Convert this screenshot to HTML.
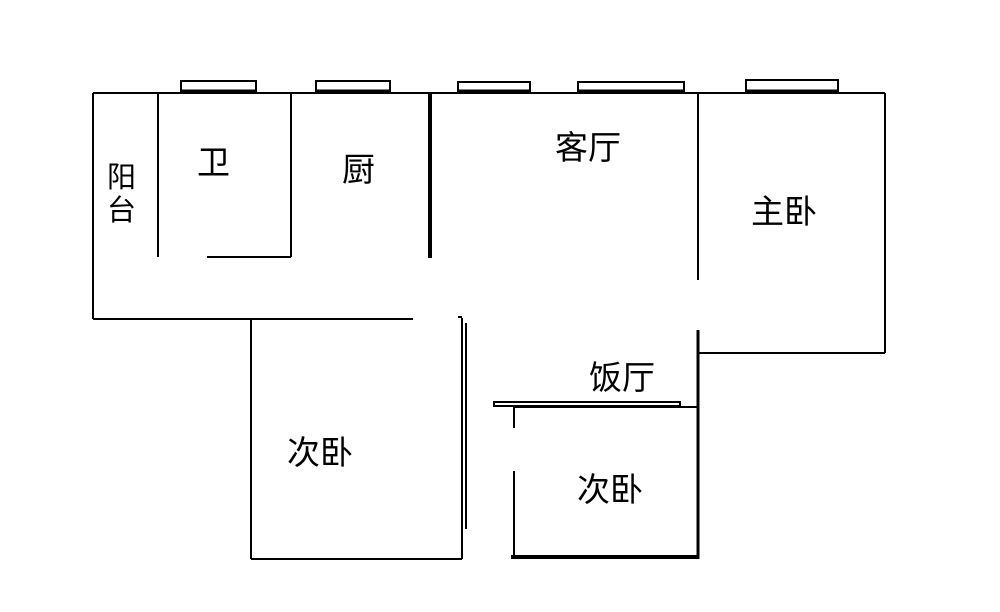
<!DOCTYPE html>
<html><head><meta charset="utf-8"><style>
body{margin:0;background:#fff;}
svg text{font-family:"Liberation Sans","Noto Sans CJK SC",sans-serif;font-size:33px;fill:#000;}
</style></head><body>
<svg width="1000" height="607" viewBox="0 0 1000 607" xmlns="http://www.w3.org/2000/svg">
<g stroke="#000" stroke-width="2" fill="none">
<line x1="93" y1="93" x2="885" y2="93"/>
<line x1="93" y1="93" x2="93" y2="319"/>
<line x1="93" y1="319" x2="413" y2="319"/>
<line x1="158" y1="93" x2="158" y2="257"/>
<line x1="291" y1="93" x2="291" y2="257"/>
<line x1="207" y1="257" x2="291" y2="257"/>
<line x1="430" y1="93" x2="430" y2="258" stroke-width="4"/>
<line x1="251" y1="319" x2="251" y2="559"/>
<line x1="251" y1="559" x2="462" y2="559"/>
<line x1="462" y1="318" x2="462" y2="559"/>
<polyline points="458,317 462,317"/>
<line x1="466" y1="323" x2="466" y2="529"/>
<line x1="698" y1="93" x2="698" y2="280"/>
<line x1="698" y1="330" x2="698" y2="559" stroke-width="3"/>
<line x1="885" y1="93" x2="885" y2="353"/>
<line x1="698" y1="353" x2="885" y2="353"/>
<line x1="514" y1="407" x2="698" y2="407"/>
<line x1="514" y1="407" x2="514" y2="428"/>
<line x1="514" y1="471" x2="514" y2="557"/>
<line x1="511" y1="557" x2="698" y2="557" stroke-width="4"/>
<rect x="494" y="402" width="186" height="4"/>
<rect x="181" y="81" width="75" height="11"/>
<rect x="316" y="81" width="74" height="11"/>
<rect x="458" y="82" width="72" height="10"/>
<rect x="578" y="82" width="106" height="10"/>
<rect x="746" y="80" width="92" height="12"/>
</g>
<g stroke="#000" stroke-width="3">
<line x1="181" y1="91" x2="256" y2="91"/><line x1="316" y1="91" x2="390" y2="91"/>
<line x1="458" y1="91" x2="530" y2="91"/><line x1="578" y1="91" x2="684" y2="91"/>
<line x1="746" y1="91" x2="838" y2="91"/>
</g>
<text x="107" y="187" style="font-size:29px">阳</text>
<text x="107" y="220" style="font-size:29px">台</text>
<text x="197" y="174">卫</text>
<text x="342" y="181">厨</text>
<text x="555" y="159">客厅</text>
<text x="751" y="223">主卧</text>
<text x="589" y="389">饭厅</text>
<text x="287" y="464">次卧</text>
<text x="577" y="501">次卧</text>
</svg>
</body></html>
